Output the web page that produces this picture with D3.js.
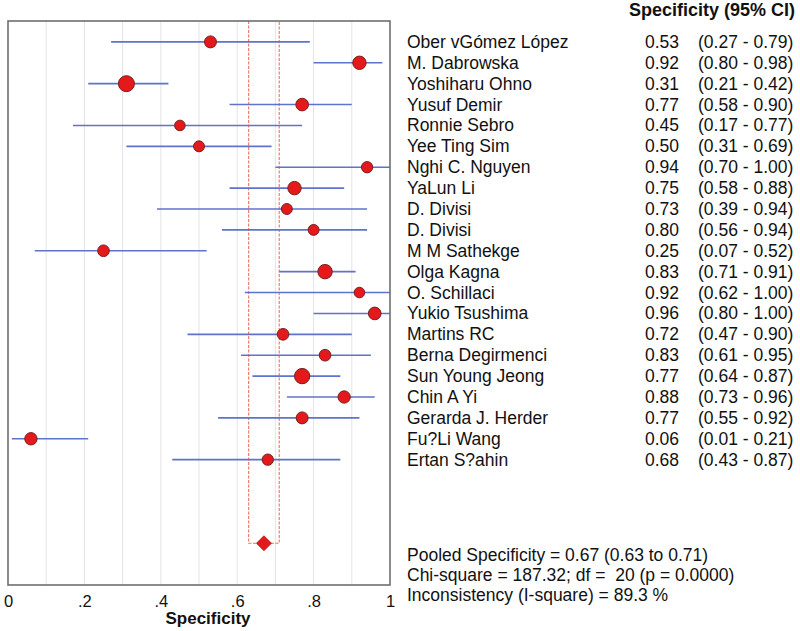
<!DOCTYPE html>
<html><head><meta charset="utf-8">
<script src="https://cdn.jsdelivr.net/npm/d3@7"></script>
<style>body{margin:0;background:#fff}text{font-family:"Liberation Sans",Arial,sans-serif;fill:#111;white-space:pre}</style>
</head><body><svg id="c" width="800" height="631"></svg>
<script>
const studies = ["Ober vGómez López","M. Dabrowska","Yoshiharu Ohno","Yusuf Demir","Ronnie Sebro","Yee Ting Sim","Nghi C. Nguyen","YaLun Li","D. Divisi","D. Divisi","M M Sathekge","Olga Kagna","O. Schillaci","Yukio Tsushima","Martins RC","Berna Degirmenci","Sun Young Jeong","Chin A Yi","Gerarda J. Herder","Fu?Li Wang","Ertan S?ahin"];
const spec = [0.53,0.92,0.31,0.77,0.45,0.50,0.94,0.75,0.73,0.80,0.25,0.83,0.92,0.96,0.72,0.83,0.77,0.88,0.77,0.06,0.68];
const lower = [0.27,0.80,0.21,0.58,0.17,0.31,0.70,0.58,0.39,0.56,0.07,0.71,0.62,0.80,0.47,0.61,0.64,0.73,0.55,0.01,0.43];
const upper = [0.79,0.98,0.42,0.90,0.77,0.69,1.00,0.88,0.94,0.94,0.52,0.91,1.00,1.00,0.90,0.95,0.87,0.96,0.92,0.21,0.87];
const weights = [36,45,64,40,28,30,32,45,30,30,34,52,28,40,34,34,59,38,36,38,32];
const pooled = {est:0.67, lo:0.63, hi:0.71};
const xTicks = [0,0.2,0.4,0.6,0.8,1];
const xTickLabels = ["0",".2",".4",".6",".8","1"];
const summaryLines = ["Pooled Specificity = 0.67 (0.63 to 0.71)","Chi-square = 187.32; df =  20 (p = 0.0000)","Inconsistency (I-square) = 89.3 %"];
const header = "Specificity (95% CI)";
const fmt = d3.format(".2f");

const svg = d3.select("#c");
const x = d3.scaleLinear().domain([0,1]).range([8,390]);
const y = d3.scaleLinear().domain([-1,26]).range([21,585]);
const r = d3.scaleSqrt().domain([0,64]).range([0,8]);
const pooledRow = 24;
const FS = 17.5;

// gridlines
svg.append("g").selectAll("line").data(d3.range(1,10).map(d=>d/10)).join("line")
  .attr("x1",d=>x(d)).attr("x2",d=>x(d)).attr("y1",y(-1)).attr("y2",y(26))
  .attr("stroke","#e4e4e4").attr("stroke-width",1);

// pooled CI dashed box
const pg = svg.append("g").attr("fill","none").attr("stroke","#f07060").attr("stroke-width",1.1).attr("stroke-dasharray","3,1.5");
pg.append("path").attr("d",`M${x(pooled.lo)},${y(-1)}V${y(pooledRow)}H${x(pooled.hi)}V${y(-1)}`);

// CI lines
svg.append("g").selectAll("line").data(studies).join("line")
  .attr("x1",(d,i)=>x(lower[i])).attr("x2",(d,i)=>x(upper[i]))
  .attr("y1",(d,i)=>y(i)).attr("y2",(d,i)=>y(i))
  .attr("stroke","#5f72cc").attr("stroke-width",1.6);

// points
svg.append("g").selectAll("circle").data(studies).join("circle")
  .attr("cx",(d,i)=>x(spec[i])).attr("cy",(d,i)=>y(i)).attr("r",(d,i)=>r(weights[i]))
  .attr("fill","#e3191c").attr("stroke","#7a1f1f").attr("stroke-width",1);

// pooled diamond
const dx=7.5, dy=7.5, px=x(pooled.est), py=y(pooledRow);
svg.append("path").attr("d",`M${px-dx},${py}L${px},${py-dy}L${px+dx},${py}L${px},${py+dy}Z`)
  .attr("fill","#e3191c").attr("stroke","#b01818").attr("stroke-width",0.8);

// frame
svg.append("rect").attr("x",x(0)).attr("y",y(-1)).attr("width",x(1)-x(0)).attr("height",y(26)-y(-1))
  .attr("fill","none").attr("stroke","#6e6e6e").attr("stroke-width",1.6);

// axis
const ax = svg.append("g").attr("transform",`translate(0,${y(26)})`)
  .call(d3.axisBottom(x).tickValues(xTicks).tickFormat((d,i)=>xTickLabels[i]).tickSize(0).tickPadding(10));
ax.select(".domain").remove();
ax.selectAll("text").attr("font-size",16.5).attr("font-family","Liberation Sans, Arial, sans-serif").attr("fill","#111");
svg.append("text").attr("x",208).attr("y",624).attr("text-anchor","middle").attr("font-size",17).attr("font-weight","bold").text("Specificity");

// right text
svg.append("text").attr("x",795).attr("y",16).attr("text-anchor","end").attr("font-size",18).attr("font-weight","bold").text(header);
const rows = svg.append("g").selectAll("g").data(studies).join("g").attr("transform",(d,i)=>`translate(0,${y(i)+6})`);
rows.append("text").attr("x",407).attr("font-size",FS).text(d=>d);
rows.append("text").attr("x",679).attr("text-anchor","end").attr("font-size",FS).text((d,i)=>fmt(spec[i]));
rows.append("text").attr("x",698).attr("font-size",FS).text((d,i)=>`(${fmt(lower[i])} - ${fmt(upper[i])})`);
svg.append("g").selectAll("text").data(summaryLines).join("text")
  .attr("x",407).attr("y",(d,i)=>561+i*20).attr("font-size",FS).text(d=>d);
</script></body></html>
